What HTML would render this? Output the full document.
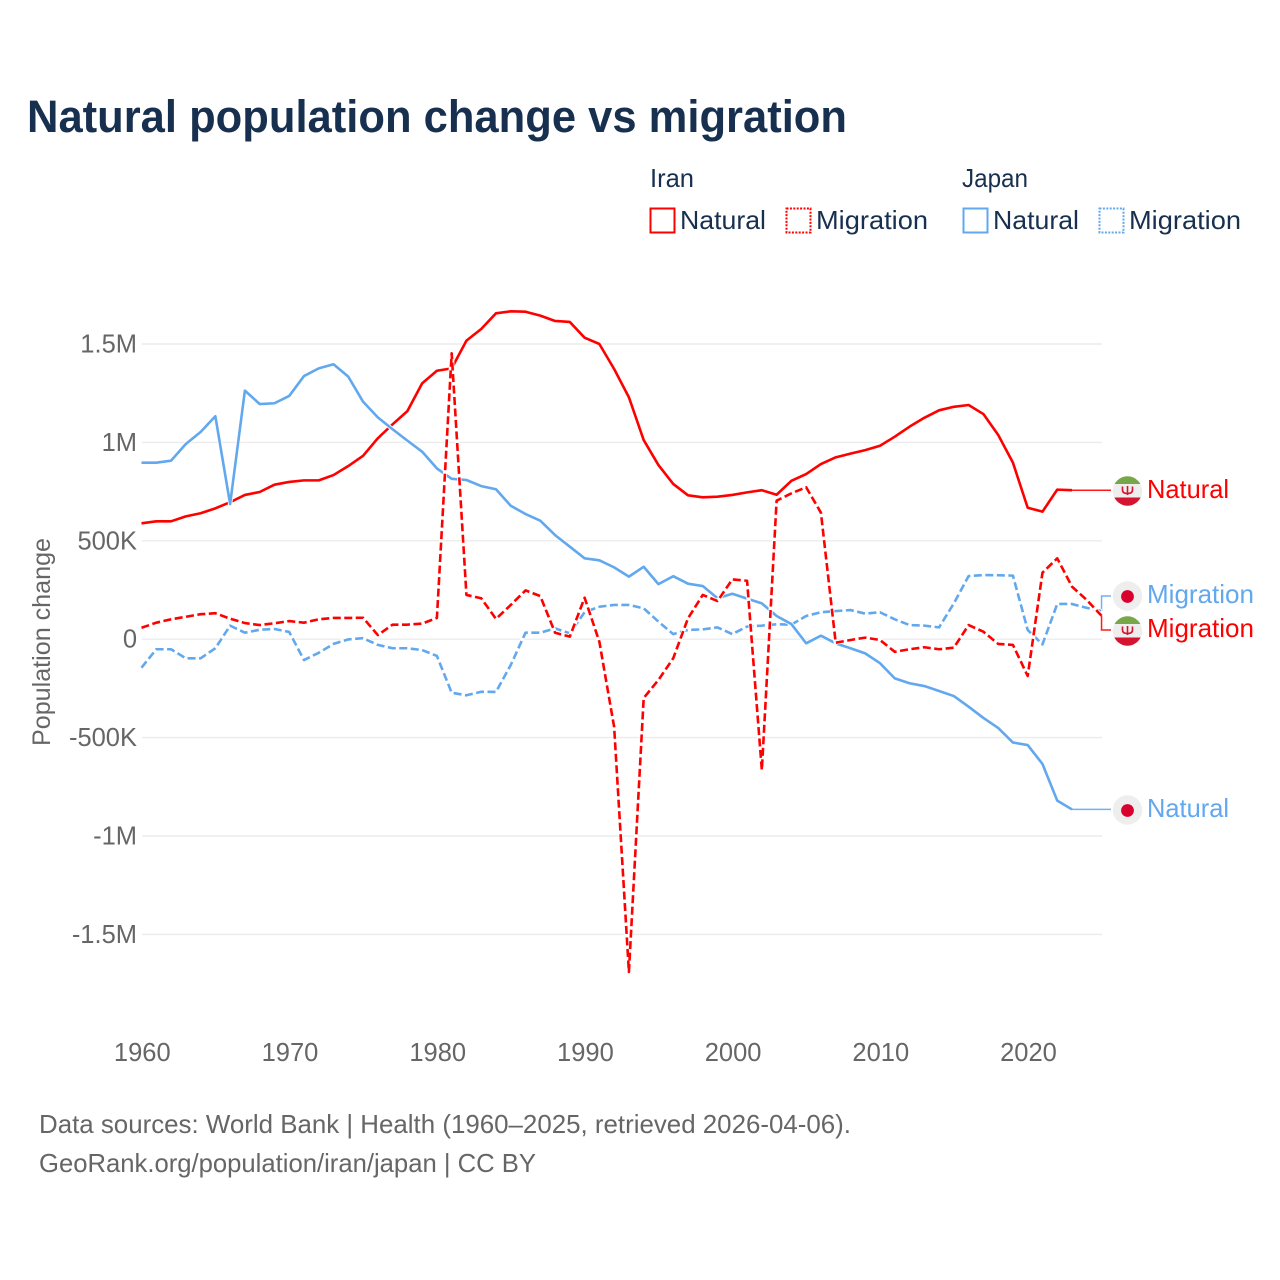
<!DOCTYPE html>
<html lang="en">
<head>
<meta charset="utf-8">
<title>Natural population change vs migration</title>
<style>
html,body{margin:0;padding:0;background:#fff;}
svg{display:block;}
text{font-family:"Liberation Sans",Arial,sans-serif;}
</style>
</head>
<body>
<svg id="chart" xmlns="http://www.w3.org/2000/svg" width="1280" height="1280" viewBox="0 0 1280 1280">
  <defs>
    <clipPath id="flag-clip-a"><circle cx="1127.5" cy="491" r="14.7"/></clipPath>
    <clipPath id="flag-clip-b"><circle cx="1127.5" cy="631" r="14.7"/></clipPath>
  </defs>
  <rect x="0" y="0" width="1280" height="1280" fill="#fff"/>
  <text x="27" y="132" font-size="45" font-weight="700" fill="#18304f" textLength="820" lengthAdjust="spacingAndGlyphs">Natural population change vs migration</text>

  <g font-size="26" fill="#18304f">
    <text x="650" y="187" textLength="44" lengthAdjust="spacingAndGlyphs">Iran</text>
    <text x="962" y="187" textLength="66" lengthAdjust="spacingAndGlyphs">Japan</text>
    <rect x="650.5" y="208.5" width="24" height="24" fill="none" stroke="#ff0000" stroke-width="2"/>
    <text x="680" y="229" textLength="86" lengthAdjust="spacingAndGlyphs">Natural</text>
    <rect x="786.5" y="208.5" width="24" height="24" fill="none" stroke="#ff0000" stroke-width="2" stroke-dasharray="2 1.4"/>
    <text x="816" y="229" textLength="112" lengthAdjust="spacingAndGlyphs">Migration</text>
    <rect x="963.5" y="208.5" width="24" height="24" fill="none" stroke="#62a8ee" stroke-width="2"/>
    <text x="993" y="229" textLength="86" lengthAdjust="spacingAndGlyphs">Natural</text>
    <rect x="1099.5" y="208.5" width="24" height="24" fill="none" stroke="#62a8ee" stroke-width="2" stroke-dasharray="2 1.4"/>
    <text x="1129" y="229" textLength="112" lengthAdjust="spacingAndGlyphs">Migration</text>
  </g>

  <g id="grid"></g>
  <g id="y-ticks"></g>
  <g id="x-ticks"></g>
  <text transform="translate(50,746) rotate(-90)" x="0" y="0" font-size="25" fill="#666" textLength="208" lengthAdjust="spacingAndGlyphs">Population change</text>

  <g id="connectors"></g>
  <g id="series"></g>

  <g>
    <g clip-path="url(#flag-clip-a)">
      <rect x="1112" y="476" width="31" height="31" fill="#eeeeee"/>
      <rect x="1112" y="476" width="31" height="8" fill="#78a64a"/>
      <rect x="1112" y="497.5" width="31" height="10" fill="#d5142f"/>
      <path d="M1122.5 486.5v3.5q0 3.5 5 3.5t5-3.5v-3.5M1127.5 486v9" fill="none" stroke="#d5142f" stroke-width="1.6"/>
    </g>
    <text x="1147" y="498" font-size="26" fill="#ff0000" textLength="82" lengthAdjust="spacingAndGlyphs">Natural</text>
  </g>
  <g>
    <circle cx="1127.5" cy="596" r="14.7" fill="#eeeeee"/>
    <circle cx="1127.5" cy="596.5" r="6.4" fill="#d9002f"/>
    <text x="1147" y="603" font-size="26" fill="#62a8ee" textLength="107" lengthAdjust="spacingAndGlyphs">Migration</text>
  </g>
  <g>
    <g clip-path="url(#flag-clip-b)">
      <rect x="1112" y="616" width="31" height="31" fill="#eeeeee"/>
      <rect x="1112" y="616" width="31" height="8" fill="#78a64a"/>
      <rect x="1112" y="637.5" width="31" height="10" fill="#d5142f"/>
      <path d="M1122.5 626.5v3.5q0 3.5 5 3.5t5-3.5v-3.5M1127.5 626v9" fill="none" stroke="#d5142f" stroke-width="1.6"/>
    </g>
    <text x="1147" y="637" font-size="26" fill="#ff0000" textLength="107" lengthAdjust="spacingAndGlyphs">Migration</text>
  </g>
  <g>
    <circle cx="1127.5" cy="810" r="14.7" fill="#eeeeee"/>
    <circle cx="1127.5" cy="810.5" r="6.4" fill="#d9002f"/>
    <text x="1147" y="817" font-size="26" fill="#62a8ee" textLength="82" lengthAdjust="spacingAndGlyphs">Natural</text>
  </g>

  <text x="39" y="1133" font-size="26" fill="#666" textLength="812" lengthAdjust="spacingAndGlyphs">Data sources: World Bank | Health (1960–2025, retrieved 2026-04-06).</text>
  <text x="39" y="1172" font-size="26" fill="#666" textLength="497" lengthAdjust="spacingAndGlyphs">GeoRank.org/population/iran/japan | CC BY</text>
</svg>
<script>
// Values in thousands of people; first value is for startYear.
var startYear = 1960;
var iranNatural = [589,599,599,624,640,665,696,733,748,785,
  799,807,807,834,880,932,1021,1092,1159,1300,
  1364,1376,1517,1576,1656,1666,1664,1644,1617,1612,
  1532,1500,1373,1229,1012,885,789,731,721,724,
  733,746,757,734,805,839,890,924,943,961,
  983,1029,1080,1125,1163,1181,1190,1144,1038,897,
  668,648,760,757];
var iranMigration = [58,84,101,114,127,132,104,82,72,81,
  92,84,101,108,108,109,21,74,74,79,
  108,1453,225,208,103,174,248,219,33,13,
  211,-13,-446,-1691,-299,-207,-97,106,225,194,
  304,297,-665,704,741,772,643,-18,-4,8,
  -4,-64,-51,-41,-51,-43,72,38,-24,-29,
  -187,338,411,267,199,119];
var japanNatural = [897,897,907,992,1053,1133,687,1263,1195,1199,
  1236,1337,1376,1397,1334,1207,1127,1067,1009,953,
  868,815,809,778,762,678,636,602,529,470,
  411,401,365,318,368,280,320,282,270,208,
  231,206,182,118,77,-21,18,-21,-46,-72,
  -122,-199,-224,-238,-263,-289,-343,-400,-451,-525,
  -538,-634,-820,-865];
var japanMigration = [-145,-51,-51,-97,-97,-46,69,33,48,52,
  37,-106,-69,-24,-1,5,-29,-46,-46,-55,
  -85,-272,-285,-267,-268,-131,33,33,55,30,
  137,165,174,174,157,89,26,47,50,60,
  26,64,69,76,74,118,137,143,148,130,
  137,101,72,69,60,182,321,326,325,323,
  47,-26,179,179,159,143];
var yTickValues = [-1500,-1000,-500,0,500,1000,1500];
var yTickLabels = ['-1.5M','-1M','-500K','0','500K','1M','1.5M'];
var xTickYears = [1960,1970,1980,1990,2000,2010,2020];

var NS = 'http://www.w3.org/2000/svg';
var RED = '#ff0000';
var BLUE = '#62a8ee';
function xScale(year){ return 141.5 + (year - 1960) * 14.77; }
function yScale(v){ return 639.2 - v * 0.1968; }
function make(tag, parent, attrs){
  var el = document.createElementNS(NS, tag);
  for (var k in attrs) el.setAttribute(k, attrs[k]);
  parent.appendChild(el);
  return el;
}
function pointsOf(values){
  return values.map(function(v, i){
    return xScale(startYear + i).toFixed(2) + ',' + yScale(v).toFixed(2);
  }).join(' ');
}

var gridG = document.getElementById('grid');
var yG = document.getElementById('y-ticks');
yTickValues.forEach(function(v, i){
  var gl = make('line', gridG, {x1: 142, x2: 1102, y1: yScale(v), y2: yScale(v), stroke: '#ececec', 'stroke-width': 1.4});
  
  
  var t = make('text', yG, {x: 137, y: yScale(v) + 8.5, 'text-anchor': 'end', 'font-size': 25.5, fill: '#666'});
  
  
  t.textContent = yTickLabels[i];
});

var xG = document.getElementById('x-ticks');
xTickYears.forEach(function(yr){
  var t = make('text', xG, {x: xScale(yr) + 0.8, y: 1061, 'text-anchor': 'middle', 'font-size': 25.5, fill: '#666'});
  
  
  t.textContent = yr;
});

function drawSeries(values, color, dashed, name){
  var g = document.getElementById('series');
  var halo = make('polyline', g, {points: pointsOf(values), fill: 'none', stroke: '#fff', 'stroke-width': 4.2, 'stroke-linejoin': 'round'});
  
  
  var line = make('polyline', g, {points: pointsOf(values), fill: 'none', stroke: color, 'stroke-width': 2.6, 'stroke-linejoin': 'round'});
  if (dashed) line.setAttribute('stroke-dasharray', '8 3.5');
  
  
}

function drawConnector(values, color, labelY, name){
  var lastYear = startYear + values.length - 1;
  var x0 = xScale(lastYear), y0 = yScale(values[values.length - 1]);
  var elbow = xScale(2025);
  var pts = x0 + ',' + y0 + ' ';
  if (Math.abs(y0 - labelY) > 1) pts += elbow + ',' + y0 + ' ' + elbow + ',' + labelY + ' ';
  pts += '1111,' + labelY;
  var c = make('polyline', document.getElementById('connectors'), {points: pts, fill: 'none', stroke: color, 'stroke-width': 1.5, opacity: 0.9});
  
  
}

drawConnector(iranNatural, RED, yScale(iranNatural[iranNatural.length - 1]), 'connector-iran-natural');
drawConnector(japanNatural, BLUE, yScale(japanNatural[japanNatural.length - 1]), 'connector-japan-natural');
drawConnector(japanMigration, BLUE, 596, 'connector-japan-migration');
drawConnector(iranMigration, RED, 630, 'connector-iran-migration');

drawSeries(iranNatural, RED, false, 'line-iran-natural');
drawSeries(japanMigration, BLUE, true, 'line-japan-migration');
drawSeries(japanNatural, BLUE, false, 'line-japan-natural');
drawSeries(iranMigration, RED, true, 'line-iran-migration');
</script>
</body>
</html>
